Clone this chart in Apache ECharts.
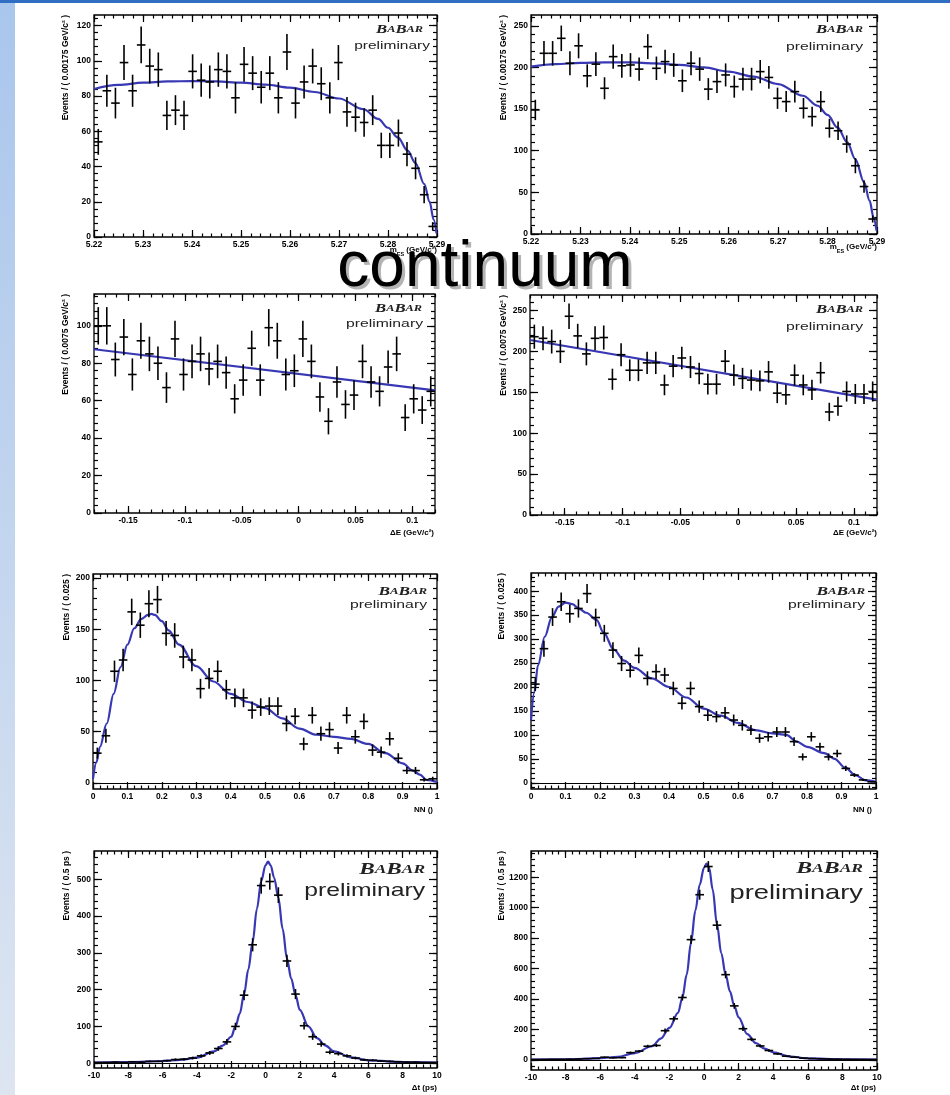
<!DOCTYPE html>
<html>
<head>
<meta charset="utf-8">
<script src="https://cdn.jsdelivr.net/npm/echarts@6/dist/echarts.min.js"></script>
<style>
html,body{margin:0;padding:0;background:#fff;}
#c{width:950px;height:1095px;}
</style>
</head>
<body>
<div id="c"></div>
<script>
// ---------------- DATA ----------------
// binning (start, width) per variable
const MES_START = 5.22, MES_BIN = 0.00175;
const DE_START = -0.18, DE_BIN = 0.0075;
const NN_START = 0, NN_BIN = 0.025;
const DT_START = -10, DT_BIN = 0.5;

// tick labels
const mesTicks = [5.22, 5.23, 5.24, 5.25, 5.26, 5.27, 5.28, 5.29];
const deTicks = [-0.15, -0.1, -0.05, 0, 0.05, 0.1];
const nnTicks = [0, 0.1, 0.2, 0.3, 0.4, 0.5, 0.6, 0.7, 0.8, 0.9, 1];
const dtTicks = [-10, -8, -6, -4, -2, 0, 2, 4, 6, 8, 10];
const yTicksMesL = [0, 20, 40, 60, 80, 100, 120];
const yTicksMesR = [0, 50, 100, 150, 200, 250];
const yTicksDeL = [0, 20, 40, 60, 80, 100];
const yTicksDeR = [0, 50, 100, 150, 200, 250];
const yTicksNnL = [0, 50, 100, 150, 200];
const yTicksNnR = [0, 50, 100, 150, 200, 250, 300, 350, 400];
const yTicksDtL = [0, 100, 200, 300, 400, 500];
const yTicksDtR = [0, 200, 400, 600, 800, 1000, 1200];

// histogram contents (events per bin)
const mesLeftValues = [54,83,76,99,83,109,97,95,69,72,69,94,89,88,95,94,79,98,93,85,93,79,105,76,88,97,87,79,99,71,68,65,72,52,52,59,47,39,24,6];
const mesRightValues = [149,217,217,235,205,226,190,204,175,213,202,203,198,225,199,207,203,184,205,198,174,183,191,177,186,186,195,188,163,159,171,151,141,159,127,124,108,82,57,18];
const deLeftValues = [100,100,82,94,74,92,85,80,67,93,74,81,85,77,81,75,61,71,88,71,99,92,74,76,93,81,62,49,70,58,63,81,70,65,78,85,51,61,55,65];
const deRightValues = [218,216,212,200,243,219,197,216,217,166,196,177,177,186,186,159,182,192,181,173,160,160,188,171,167,165,164,175,149,147,171,159,153,174,126,133,151,148,148,151];
const nnLeftValues = [29,46,109,120,167,154,175,179,146,144,123,120,92,102,109,91,83,83,71,74,75,75,58,65,38,66,48,52,34,66,45,60,32,30,43,24,12,12,3,4];
const nnRightValues = [206,280,346,378,353,364,395,345,312,277,249,235,266,218,232,225,197,166,197,159,141,138,146,131,120,110,93,96,106,106,86,54,96,75,54,61,30,16,6,2];
const dtLeftValues = [2,2,3,2,4,3,5,5,7,10,11,14,20,28,40,58,100,185,322,483,494,457,278,188,102,72,52,30,26,20,14,9,8,6,5,4,3,3,2,2];
const dtRightValues = [3,3,4,4,5,6,8,10,18,14,15,48,58,90,95,192,270,410,790,1085,1270,885,560,355,205,135,92,62,40,25,18,12,9,7,6,5,4,3,3,3];

// fit curves [x, y]
const mesLeftFit = [[5.22,84],[5.225,86.3],[5.23,87.6],[5.235,88.3],[5.24,88.5],[5.245,88.3],[5.25,87.6],[5.255,86.5],[5.26,84.8],[5.265,82.3],[5.27,78.6],[5.275,72.5],[5.278,67],[5.28,62],[5.282,56.5],[5.284,49],[5.2856,42],[5.2874,30],[5.2885,20],[5.2893,10],[5.2899,2]];
const mesRightFit = [[5.22,201],[5.225,204],[5.23,205.5],[5.235,206],[5.24,206],[5.245,205],[5.25,203],[5.255,200],[5.26,195],[5.265,189],[5.27,180],[5.275,166],[5.278,154],[5.28,143],[5.282,128],[5.284,110],[5.2856,90],[5.2874,62],[5.2885,40],[5.2893,20],[5.2899,4]];
const deLeftFit = [[-0.18,87.5],[0.12,65.5]];
const deRightFit = [[-0.18,214],[0.12,141]];
const nnLeftFit = [[0,4],[0.01,20],[0.02,35],[0.04,58],[0.06,87],[0.08,113],[0.1,135],[0.12,151],[0.14,160],[0.16,164],[0.17,165],[0.18,164],[0.2,158],[0.22,149],[0.25,135],[0.3,114],[0.35,99],[0.4,87],[0.45,79],[0.5,73],[0.55,63],[0.6,53],[0.65,47],[0.7,45],[0.75,43],[0.8,38],[0.85,29],[0.9,19],[0.93,12],[0.95,8],[0.97,3],[1,1]];
const nnRightFit = [[0,130],[0.01,190],[0.02,245],[0.04,305],[0.06,345],[0.08,368],[0.1,376],[0.12,373],[0.14,363],[0.16,355],[0.19,340],[0.21,314],[0.24,278],[0.27,255],[0.3,240],[0.35,218],[0.4,200],[0.45,178],[0.5,155],[0.55,140],[0.6,125],[0.65,110],[0.7,103],[0.74,100],[0.77,86],[0.8,75],[0.85,62],[0.88,50],[0.91,32],[0.94,16],[0.97,5],[1,2]];
const dtLeftFit = [[-10,2],[-8,3],[-6,6],[-5,9],[-4,15],[-3,32],[-2.5,48],[-2,72],[-1.75,100],[-1.5,135],[-1.25,188],[-1,255],[-0.75,330],[-0.5,420],[-0.25,495],[0,538],[0.15,548],[0.3,538],[0.5,505],[0.75,450],[1,365],[1.25,285],[1.5,230],[1.75,185],[2,145],[2.5,100],[3,68],[3.5,48],[4,32],[5,16],[6,8],[8,3],[10,2]];
const dtRightFit = [[-10,3],[-8,4],[-6,12],[-5,20],[-4,45],[-3,90],[-2.5,140],[-2,210],[-1.5,310],[-1.25,410],[-1,560],[-0.75,770],[-0.5,980],[-0.25,1150],[0,1262],[0.15,1290],[0.3,1262],[0.5,1120],[0.75,890],[1,700],[1.25,560],[1.5,450],[1.75,355],[2,280],[2.5,170],[3,110],[3.5,75],[4,50],[5,22],[6,10],[8,4],[10,3]];

// axis titles
const yTitles = ['Events / ( 0.00175 GeV/c² )','Events / ( 0.00175 GeV/c² )','Events / ( 0.0075 GeV/c² )','Events / ( 0.0075 GeV/c² )','Events / ( 0.025 )','Events / ( 0.025 )','Events / ( 0.5 ps )','Events / ( 0.5 ps )'];
const xTitles = ['mes','mes','ΔE (GeV/c²)','ΔE (GeV/c²)','NN ()','NN ()','Δt (ps)','Δt (ps)'];

// ---------------- LAYOUT / STYLE ----------------
const panels = [
  {l:94, t:15, w:343, h:222, xMin:5.22, xMax:5.29, xT:mesTicks, xm:0.002, yMin:0, yMax:126, yT:yTicksMesL, ym:4, vals:mesLeftValues, start:MES_START, bin:MES_BIN, fit:mesLeftFit, zero:false},
  {l:531, t:15, w:346, h:219, xMin:5.22, xMax:5.29, xT:mesTicks, xm:0.002, yMin:0, yMax:263, yT:yTicksMesR, ym:10, vals:mesRightValues, start:MES_START, bin:MES_BIN, fit:mesRightFit, zero:false},
  {l:94, t:294, w:341, h:219, xMin:-0.18, xMax:0.12, xT:deTicks, xm:0.01, yMin:0, yMax:117, yT:yTicksDeL, ym:4, vals:deLeftValues, start:DE_START, bin:DE_BIN, fit:deLeftFit, zero:false},
  {l:530, t:295, w:347, h:220, xMin:-0.18, xMax:0.12, xT:deTicks, xm:0.01, yMin:0, yMax:269, yT:yTicksDeR, ym:10, vals:deRightValues, start:DE_START, bin:DE_BIN, fit:deRightFit, zero:false},
  {l:93, t:574, w:344, h:215, xMin:0, xMax:1, xT:nnTicks, xm:0.02, yMin:-6, yMax:204, yT:yTicksNnL, ym:10, vals:nnLeftValues, start:NN_START, bin:NN_BIN, fit:nnLeftFit, zero:true},
  {l:531, t:573, w:345, h:216, xMin:0, xMax:1, xT:nnTicks, xm:0.02, yMin:-13, yMax:438, yT:yTicksNnR, ym:10, vals:nnRightValues, start:NN_START, bin:NN_BIN, fit:nnRightFit, zero:true},
  {l:94, t:851, w:343, h:217, xMin:-10, xMax:10, xT:dtTicks, xm:0.4, yMin:-13, yMax:577, yT:yTicksDtL, ym:20, vals:dtLeftValues, start:DT_START, bin:DT_BIN, fit:dtLeftFit, zero:true},
  {l:531, t:851, w:346, h:219, xMin:-10, xMax:10, xT:dtTicks, xm:0.4, yMin:-66, yMax:1372, yT:yTicksDtR, ym:40, vals:dtRightValues, start:DT_START, bin:DT_BIN, fit:dtRightFit, zero:true}
];
// text positions
const logoPos = [
  {bx:423, by:30, px:430, py:46, big:11.5, small:8.5, bs:1.45, ps:1.55, pf:10},
  {bx:863, by:30, px:863, py:47, big:11.5, small:8.5, bs:1.45, ps:1.5, pf:10.5},
  {bx:422, by:309, px:423, py:324, big:11.5, small:8.5, bs:1.45, ps:1.5, pf:10.5},
  {bx:863, by:310, px:863, py:327, big:11.5, small:8.5, bs:1.45, ps:1.5, pf:10.5},
  {bx:427, by:592, px:427, py:605, big:11.5, small:8.5, bs:1.5, ps:1.5, pf:10.5},
  {bx:865, by:592, px:865, py:605, big:11.5, small:8.5, bs:1.5, ps:1.5, pf:10.5},
  {bx:425, by:870, px:425, py:891, big:16, small:12, bs:1.45, ps:1.3, pf:19},
  {bx:863, by:869, px:863, py:893, big:17, small:12.5, bs:1.4, ps:1.3, pf:21}
];
const yTitleX = [66, 504, 66, 504, 67, 502, 67, 502];
const xTitlePos = [[437,250],[877,247],[434,533],[877,533],[433,810],[872,810],[437,1088],[876,1088]];

const LABEL_FONT = {fontSize:8.5, fontWeight:'bold', color:'#000', fontFamily:'Liberation Sans, Arial, sans-serif'};

function fmt(v){ return String(Math.round(v*10000)/10000); }
function minorValues(min, max, step){
  const out = [];
  const s = Math.ceil(min/step - 1e-9);
  for (let i = s; i*step <= max + 1e-9; i++) out.push(Math.round(i*step*100000)/100000);
  return out;
}

function renderErr(params, api){
  const x = api.value(0), y = api.value(1), hw = api.value(2), e = api.value(3);
  const l = api.coord([x - hw, y]), r = api.coord([x + hw, y]);
  const t = api.coord([x, y + e]), b = api.coord([x, y - e]);
  const st = {stroke:'#000', lineWidth:1.6};
  return {type:'group', children:[
    {type:'line', shape:{x1:l[0], y1:l[1], x2:r[0], y2:r[1]}, style:st},
    {type:'line', shape:{x1:t[0], y1:t[1], x2:b[0], y2:b[1]}, style:st}
  ]};
}

const grids = [], xAxes = [], yAxes = [], series = [], graphics = [];

// background decoration
graphics.push({type:'rect', shape:{x:0, y:0, width:15, height:1095}, z:-10,
  style:{fill:new echarts.graphic.LinearGradient(0,0,0,1,[{offset:0,color:'#a9c6ec'},{offset:1,color:'#dde5f1'}])}});
graphics.push({type:'rect', shape:{x:0, y:0, width:950, height:3}, z:-9, style:{fill:'#2f6ec0'}});

panels.forEach((p, i) => {
  grids.push({left:p.l, top:p.t, width:p.w, height:p.h, show:true, borderColor:'#000', borderWidth:1.3, backgroundColor:'transparent', containLabel:false});
  const xMinor = minorValues(p.xMin, p.xMax, p.xm);
  const yMinor = minorValues(p.yMin, p.yMax, p.ym);
  const tickStyle = {color:'#000', width:1.2};
  const baseX = {gridIndex:i, type:'value', min:p.xMin, max:p.xMax, axisLine:{show:false, onZero:false}, splitLine:{show:false}};
  const baseY = {gridIndex:i, type:'value', min:p.yMin, max:p.yMax, axisLine:{show:false, onZero:false}, splitLine:{show:false}};
  xAxes.push(Object.assign({}, baseX, {position:'bottom',
    axisTick:{show:true, inside:true, length:7, customValues:p.xT, lineStyle:tickStyle},
    axisLabel:Object.assign({show:true, customValues:p.xT, formatter:fmt, margin:3, showMinLabel:true, showMaxLabel:true}, LABEL_FONT)}));
  xAxes.push(Object.assign({}, baseX, {position:'bottom',
    axisTick:{show:true, inside:true, length:3.5, customValues:xMinor, lineStyle:tickStyle}, axisLabel:{show:false}}));
  xAxes.push(Object.assign({}, baseX, {position:'top',
    axisTick:{show:true, inside:true, length:7, customValues:p.xT, lineStyle:tickStyle}, axisLabel:{show:false}}));
  xAxes.push(Object.assign({}, baseX, {position:'top',
    axisTick:{show:true, inside:true, length:3.5, customValues:xMinor, lineStyle:tickStyle}, axisLabel:{show:false}}));
  yAxes.push(Object.assign({}, baseY, {position:'left',
    axisTick:{show:true, inside:true, length:8, customValues:p.yT, lineStyle:tickStyle},
    axisLabel:Object.assign({show:true, customValues:p.yT, formatter:fmt, margin:3, showMinLabel:true, showMaxLabel:true}, LABEL_FONT)}));
  yAxes.push(Object.assign({}, baseY, {position:'left',
    axisTick:{show:true, inside:true, length:4, customValues:yMinor, lineStyle:tickStyle}, axisLabel:{show:false}}));
  yAxes.push(Object.assign({}, baseY, {position:'right',
    axisTick:{show:true, inside:true, length:8, customValues:p.yT, lineStyle:tickStyle}, axisLabel:{show:false}}));
  yAxes.push(Object.assign({}, baseY, {position:'right',
    axisTick:{show:true, inside:true, length:4, customValues:yMinor, lineStyle:tickStyle}, axisLabel:{show:false}}));

  const fitSeries = {type:'line', xAxisIndex:4*i, yAxisIndex:4*i, data:p.fit, smooth:0.35, smoothMonotone:'x',
    showSymbol:false, symbol:'none', lineStyle:{color:'#3838b4', width:2.2}, z:2, silent:true, clip:true};
  if (p.zero) {
    fitSeries.markLine = {silent:true, symbol:'none', label:{show:false},
      lineStyle:{color:'#000', width:1.1, type:'solid'}, data:[{yAxis:0}], animation:false};
  }
  series.push(fitSeries);
  const pts = p.vals.map((v, k) => [p.start + (k + 0.5)*p.bin, v, p.bin/2, Math.sqrt(v)]);
  series.push({type:'custom', xAxisIndex:4*i, yAxisIndex:4*i, renderItem:renderErr, data:pts,
    encode:{x:0, y:1}, z:3, clip:true, silent:true});

  // y title
  graphics.push({type:'text', x:yTitleX[i], y:p.t, rotation:Math.PI/2,
    style:{text:yTitles[i], align:'right', verticalAlign:'middle', fontSize:8.5, fontWeight:'bold', fill:'#000', fontFamily:'Liberation Sans, Arial, sans-serif'}});
  // x title
  const xp = xTitlePos[i];
  if (xTitles[i] === 'mes') {
    graphics.push({type:'text', x:xp[0], y:xp[1],
      style:{text:'{n|m}{s|ES}{n| (GeV/c²)}', align:'right', verticalAlign:'middle', fill:'#000',
        rich:{n:{fontSize:8, fontWeight:'bold', fontFamily:'Liberation Sans, Arial, sans-serif', fill:'#000', lineHeight:10},
              s:{fontSize:5.5, fontWeight:'bold', fontFamily:'Liberation Sans, Arial, sans-serif', fill:'#000', verticalAlign:'bottom', lineHeight:14}}}});
  } else {
    graphics.push({type:'text', x:xp[0], y:xp[1],
      style:{text:xTitles[i], align:'right', verticalAlign:'middle', fontSize:8, fontWeight:'bold', fill:'#000', fontFamily:'Liberation Sans, Arial, sans-serif'}});
  }
  // BaBar logo
  const lg = logoPos[i];
  graphics.push({type:'text', x:lg.bx, y:lg.by, scaleX:lg.bs, z:10,
    style:{text:'{b|B}{s|A}{b|B}{s|AR}', align:'right', verticalAlign:'middle', fill:'#222',
      rich:{b:{fontSize:lg.big, fontStyle:'italic', fontWeight:'bold', fontFamily:'Liberation Serif, serif', fill:'#222'},
            s:{fontSize:lg.small, fontStyle:'italic', fontWeight:'bold', fontFamily:'Liberation Serif, serif', fill:'#222'}}}});
  graphics.push({type:'text', x:lg.px, y:lg.py, scaleX:lg.ps, z:10,
    style:{text:'preliminary', align:'right', verticalAlign:'middle', fontSize:lg.pf, fill:'#222', fontFamily:'Liberation Sans, Arial, sans-serif'}});
});

// slide overlay title
graphics.push({type:'text', x:488, y:271, z:20, style:{text:'continuum', align:'center', verticalAlign:'middle', fontSize:64, fill:'#b4b4b4', fontFamily:'Liberation Sans, Arial, sans-serif'}});
graphics.push({type:'text', x:485, y:268, z:21, style:{text:'continuum', align:'center', verticalAlign:'middle', fontSize:64, fill:'#000', fontFamily:'Liberation Sans, Arial, sans-serif'}});

const chart = echarts.init(document.getElementById('c'), null, {renderer:'canvas'});
chart.setOption({
  animation:false,
  backgroundColor:'#fff',
  grid:grids,
  xAxis:xAxes,
  yAxis:yAxes,
  series:series,
  graphic:graphics
});
</script>
</body>
</html>
